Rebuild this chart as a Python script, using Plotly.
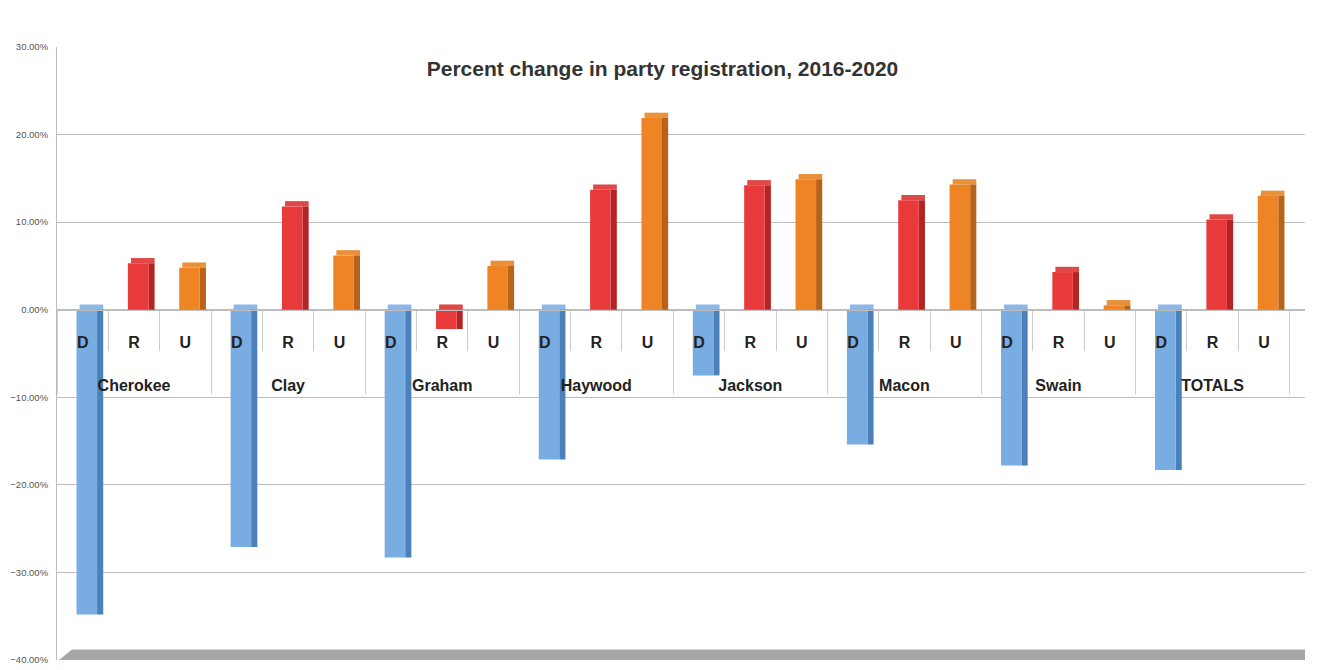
import plotly.graph_objects as go

counties = ["Cherokee", "Clay", "Graham", "Haywood", "Jackson", "Macon", "Swain", "TOTALS"]
parties = ["D", "R", "U"]
d_vals = [-34.8, -27.1, -28.3, -17.1, -7.5, -15.4, -17.8, -18.3]
r_vals = [5.3, 11.8, -2.2, 13.7, 14.2, 12.5, 4.3, 10.3]
u_vals = [4.8, 6.2, 5.0, 21.9, 14.9, 14.3, 0.5, 13.0]
y_ticks = [30, 20, 10, 0, -10, -20, -30, -40]
title_text = "Percent change in party registration, 2016-2020"

face_colors = {"D": "#79ACE0", "R": "#E83A3A", "U": "#EE8424"}
side_colors = {"D": "#4C80B8", "R": "#B52424", "U": "#B8621A"}
top_colors = {"D": "#8DB8E6", "R": "#E04848", "U": "#E8903A"}

vals = {"D": d_vals, "R": r_vals, "U": u_vals}
xs_outer, xs_inner, ys, fc, sc, tc, tops = [], [], [], [], [], [], []
for i, c in enumerate(counties):
    for p in parties:
        v = vals[p][i] / 100
        xs_outer.append("<br><br>" + c)
        xs_inner.append(p)
        ys.append(v)
        tops.append(max(v, 0))
        fc.append(face_colors[p])
        sc.append(side_colors[p])
        tc.append(top_colors[p])

fig = go.Figure()
# top face (depth)
fig.add_trace(go.Bar(x=[xs_outer, xs_inner], y=[0.006] * len(ys), base=tops,
                     marker=dict(color=tc, line=dict(width=0)),
                     width=0.46, offset=-0.06, hoverinfo="skip"))
# side face (depth)
fig.add_trace(go.Bar(x=[xs_outer, xs_inner], y=ys, marker=dict(color=sc, line=dict(width=0)),
                     width=0.12, offset=0.28, hoverinfo="skip"))
# front face
fig.add_trace(go.Bar(x=[xs_outer, xs_inner], y=ys, marker=dict(color=fc, line=dict(width=0)),
                     width=0.4, offset=-0.12))

# page body has an 8px margin, so the figure is sized to sit inside the window
fig.update_layout(
    width=1309, height=662,
    margin=dict(l=49, r=12, t=39, b=10),
    paper_bgcolor="white", plot_bgcolor="white",
    barmode="overlay", showlegend=False,
    title=dict(text="<b>" + title_text + "</b>", x=0.5, xanchor="center", y=0.909, yanchor="middle",
               font=dict(family="Liberation Sans", size=21, color="#333333")),
    font=dict(family="Liberation Sans"),
)
fig.update_yaxes(range=[-0.4, 0.3], tickvals=[v / 100 for v in y_ticks], tickformat=".2%",
                 showgrid=True, gridcolor="#BDBDBD", gridwidth=1, zeroline=False,
                 showline=True, linecolor="#BDBDBD", linewidth=1, automargin=False,
                 tickfont=dict(size=9.5, color="#555555"), ticks="", ticklabelstandoff=6)
fig.update_xaxes(type="multicategory", anchor="free", position=40 / 70,
                 range=[-0.5, 23.8], automargin=False,
                 showline=True, linecolor="#BDBDBD", linewidth=1,
                 ticks="outside", tickson="boundaries", ticklen=40, tickcolor="#CCCCCC",
                 ticklabelstandoff=18,
                 showdividers=True, dividercolor="#CCCCCC", dividerwidth=1,
                 tickfont=dict(size=16, color="#222222", weight="bold"),
                 showgrid=False)

# floor (3D base)
fig.add_shape(type="path", xref="paper", yref="y",
              path="M 0,-0.402 L 1,-0.402 L 1,-0.388 L 0.012,-0.388 Z",
              fillcolor="#A6A6A6", line=dict(width=0), layer="below")

fig.write_html("out.html")
